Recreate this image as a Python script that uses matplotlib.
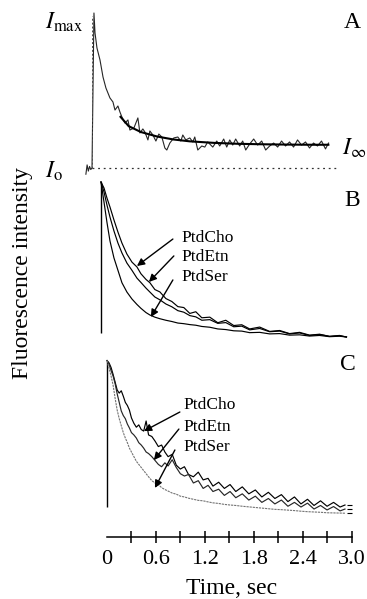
import matplotlib
matplotlib.use('Agg')
import matplotlib.pyplot as plt
import numpy as np

plt.rcParams['font.family'] = ['Liberation Serif', 'DejaVu Serif']
plt.rcParams['mathtext.fontset'] = 'stix'

# ---- data (time in sec, intensity in relative units) ----
# panel A: raw trace and fitted curve
a_time = [-0.075, -0.06, -0.045, -0.03, -0.015, 0.0, 0.024, 0.037, 0.061, 0.098,
          0.135, 0.171, 0.220, 0.257, 0.282, 0.318, 0.343, 0.367, 0.404, 0.441,
          0.465, 0.514, 0.563, 0.588, 0.624, 0.649, 0.686, 0.710, 0.747, 0.784,
          0.820, 0.857, 0.894, 0.918, 0.955, 1.004, 1.053, 1.090, 1.114, 1.151,
          1.200, 1.237, 1.261, 1.298, 1.347, 1.384, 1.420, 1.482, 1.531, 1.567,
          1.616, 1.653, 1.690, 1.727, 1.763, 1.812, 1.849, 1.886, 1.935, 1.984,
          2.033, 2.082, 2.131, 2.180, 2.229, 2.278, 2.326, 2.375, 2.424, 2.473,
          2.522, 2.571, 2.620, 2.669, 2.718, 2.767, 2.816, 2.865, 2.902]
a_raw = [-0.04, 0.02, -0.02, 0.01, -0.01, 0.0, 1.0, 0.871, 0.774, 0.697,
         0.587, 0.516, 0.452, 0.426, 0.374, 0.400, 0.361, 0.329, 0.290, 0.310,
         0.245, 0.258, 0.323, 0.226, 0.252, 0.232, 0.181, 0.239, 0.213, 0.174,
         0.219, 0.200, 0.129, 0.116, 0.161, 0.194, 0.200, 0.174, 0.213, 0.181,
         0.194, 0.168, 0.200, 0.116, 0.142, 0.135, 0.168, 0.135, 0.174, 0.142,
         0.187, 0.135, 0.181, 0.148, 0.187, 0.142, 0.174, 0.116, 0.155, 0.187,
         0.148, 0.174, 0.116, 0.142, 0.161, 0.135, 0.174, 0.142, 0.168, 0.135,
         0.181, 0.148, 0.168, 0.129, 0.161, 0.142, 0.174, 0.123, 0.161]
a_fit_time = [0.35, 0.45, 0.6, 0.8, 1.0, 1.2, 1.5, 1.8, 2.1, 2.4, 2.7, 2.9]
a_fit = [0.33, 0.27, 0.232, 0.203, 0.184, 0.172, 0.162, 0.156, 0.153, 0.151, 0.150, 0.150]

# panel B
b_time = [0, 0.037, 0.073, 0.110, 0.159, 0.208, 0.257, 0.318, 0.380, 0.441,
          0.490, 0.551, 0.600, 0.661, 0.722, 0.796, 0.869, 0.943, 1.016, 1.090,
          1.163, 1.237, 1.335, 1.433, 1.531, 1.629, 1.727, 1.824, 1.947, 2.069,
          2.192, 2.314, 2.437, 2.559, 2.682, 2.804, 2.926, 3.012]
b_cho = [1.0, 0.961, 0.897, 0.839, 0.755, 0.677, 0.606, 0.535, 0.483, 0.452,
         0.408, 0.372, 0.350, 0.306, 0.291, 0.248, 0.229, 0.196, 0.190, 0.152,
         0.163, 0.124, 0.128, 0.092, 0.108, 0.074, 0.079, 0.052, 0.064, 0.036,
         0.042, 0.022, 0.030, 0.012, 0.018, 0.004, 0.010, 0.0]
b_etn = [1.0, 0.935, 0.852, 0.774, 0.684, 0.606, 0.542, 0.477, 0.430, 0.380,
         0.352, 0.316, 0.290, 0.258, 0.240, 0.213, 0.195, 0.170, 0.160, 0.138,
         0.130, 0.108, 0.112, 0.088, 0.093, 0.066, 0.070, 0.046, 0.055, 0.034,
         0.038, 0.020, 0.026, 0.010, 0.016, 0.004, 0.008, 0.0]
b_ser = [1.0, 0.87, 0.74, 0.62, 0.51, 0.43, 0.35, 0.29, 0.245, 0.21,
         0.185, 0.158, 0.142, 0.128, 0.118, 0.108, 0.100, 0.090, 0.086, 0.080,
         0.076, 0.068, 0.063, 0.052, 0.048, 0.040, 0.038, 0.028, 0.030, 0.020,
         0.022, 0.012, 0.014, 0.006, 0.010, 0.002, 0.005, 0.0]
b_start = 0.026

# panel C
c_time = [0, 0.025, 0.05, 0.075, 0.10, 0.125, 0.15, 0.175, 0.20, 0.225,
          0.25, 0.275, 0.30, 0.33, 0.36, 0.39, 0.42, 0.45, 0.48, 0.51,
          0.55, 0.59, 0.63, 0.67, 0.71, 0.75, 0.80, 0.85, 0.90, 0.95,
          1.00, 1.06, 1.12, 1.18, 1.24, 1.30, 1.37, 1.44, 1.51, 1.58,
          1.66, 1.74, 1.82, 1.90, 1.98, 2.06, 2.14, 2.22, 2.30, 2.38,
          2.46, 2.54, 2.62, 2.70, 2.78, 2.86, 2.92]
c_cho = [0.99, 0.975, 0.945, 0.90, 0.85, 0.80, 0.78, 0.795, 0.76, 0.72,
         0.70, 0.67, 0.62, 0.585, 0.56, 0.575, 0.545, 0.535, 0.60, 0.51,
         0.50, 0.47, 0.435, 0.445, 0.40, 0.37, 0.385, 0.315, 0.29, 0.305,
         0.255, 0.24, 0.27, 0.22, 0.23, 0.18, 0.205, 0.165, 0.19, 0.145,
         0.175, 0.13, 0.155, 0.11, 0.14, 0.10, 0.125, 0.08, 0.11, 0.065,
         0.095, 0.055, 0.085, 0.05, 0.075, 0.045, 0.058]
c_etn = [0.99, 0.965, 0.925, 0.89, 0.84, 0.775, 0.72, 0.665, 0.635, 0.615,
         0.58, 0.555, 0.525, 0.51, 0.49, 0.46, 0.445, 0.425, 0.40, 0.39,
         0.37, 0.345, 0.32, 0.305, 0.33, 0.31, 0.35, 0.30, 0.26, 0.245,
         0.255, 0.20, 0.215, 0.165, 0.185, 0.145, 0.16, 0.12, 0.145, 0.105,
         0.13, 0.09, 0.115, 0.075, 0.10, 0.065, 0.09, 0.05, 0.075, 0.045,
         0.07, 0.032, 0.055, 0.026, 0.048, 0.02, 0.032]
c_ser = [0.99, 0.94, 0.89, 0.83, 0.745, 0.67, 0.615, 0.57, 0.525, 0.49,
         0.46, 0.425, 0.40, 0.37, 0.34, 0.32, 0.30, 0.28, 0.26, 0.24,
         0.215, 0.20, 0.19, 0.17, 0.158, 0.148, 0.135, 0.128, 0.115, 0.11,
         0.102, 0.095, 0.088, 0.085, 0.078, 0.072, 0.068, 0.062, 0.058, 0.055,
         0.05, 0.046, 0.042, 0.038, 0.034, 0.03, 0.028, 0.025, 0.022, 0.018,
         0.015, 0.013, 0.011, 0.008, 0.007, 0.006, 0.005]
c_start = 0.045
c_end_levels = [0.058, 0.032, 0.006]

lipids = ['PtdCho', 'PtdEtn', 'PtdSer']
tick_vals = [0, 0.6, 1.2, 1.8, 2.4, 3.0]
tick_labels = ['0', '0.6', '1.2', '1.8', '2.4', '3.0']
tick_marks = [0.3, 0.6, 0.9, 1.2, 1.5, 1.8, 2.1, 2.4, 2.7, 3.0]

# ---- layout (pixels) ----
W, H = 367, 599
PX_S = 81.5       # pixels per second
PX_U = 155.0      # pixels per intensity unit
LEFT, RIGHT = 60, 367

fig = plt.figure(figsize=(W / 100, H / 100), dpi=100)


def px(x, y):
    return x / W, 1 - y / H


def panel(top, bottom, t0_px, y0_px):
    ax = fig.add_axes([LEFT / W, 1 - bottom / H, (RIGHT - LEFT) / W, (bottom - top) / H])
    ax.set_xlim((LEFT - t0_px) / PX_S, (RIGHT - t0_px) / PX_S)
    ax.set_ylim((y0_px - bottom) / PX_U, (y0_px - top) / PX_U)
    ax.patch.set_visible(False)
    for s in ax.spines.values():
        s.set_visible(False)
    ax.set_xticks([])
    ax.set_yticks([])
    return ax


arrow = dict(arrowstyle='-|>', color='k', lw=1.0, mutation_scale=11, shrinkA=0, shrinkB=0)

# panel A
axA = panel(0, 180, 92, 168)
axA.plot(a_time, a_raw, color='0.15', lw=0.8)
axA.plot(a_fit_time, a_fit, color='k', lw=1.5)
axA.vlines(0, 0, 0.98, colors='0.3', lw=0.7, linestyles=(0, (2, 2)))
axA.hlines(0, 0, 3.0, colors='0.2', lw=0.9, linestyles=(0, (1.5, 3)))

# panel B
axB = panel(175, 345, 101, 337)
axB.vlines(0, b_start, 1.0, colors='k', lw=1.0)
for vals in (b_cho, b_etn, b_ser):
    axB.plot(b_time, vals, color='k', lw=0.85)
b_arrows = [((0.882, 0.632), (0.441, 0.458)),
            ((0.894, 0.523), (0.588, 0.355)),
            ((0.882, 0.368), (0.612, 0.129))]
b_label_y = [0.639, 0.516, 0.387]
for name, (tail, head), ly in zip(lipids, b_arrows, b_label_y):
    axB.annotate('', xy=head, xytext=tail, arrowprops=arrow)
    axB.text(0.992, ly, name, fontsize=12.5, ha='left', va='center')

# panel C with time axis
axC = panel(350, 575, 107, 514)
axC.vlines(0, c_start, 0.99, colors='k', lw=1.0)
axC.plot(c_time, c_cho, color='k', lw=0.85)
axC.plot(c_time, c_etn, color='0.15', lw=0.85)
axC.plot(c_time, c_ser, color='0.45', lw=0.8, linestyle=(0, (2, 0.8)))
axC.hlines(c_end_levels, 2.94, 3.0, colors='k', lw=0.8)
c_arrows = [((0.894, 0.658), (0.453, 0.535)),
            ((0.882, 0.548), (0.575, 0.348)),
            ((0.833, 0.413), (0.588, 0.168))]
c_label_y = [0.703, 0.561, 0.432]
for name, (tail, head), ly in zip(lipids, c_arrows, c_label_y):
    axC.annotate('', xy=head, xytext=tail, arrowprops=arrow)
    axC.text(0.943, ly, name, fontsize=12.5, ha='left', va='center')

axC.spines['bottom'].set_visible(True)
axC.spines['bottom'].set_position(('data', (514 - 537) / PX_U))
axC.spines['bottom'].set_bounds(0, 3.0)
axC.spines['bottom'].set_linewidth(1.1)
axC.xaxis.remove_overlapping_locs = False
axC.set_xticks(tick_vals)
axC.set_xticklabels(tick_labels)
axC.set_xticks(tick_marks, minor=True)
axC.tick_params(axis='x', which='major', length=0, labelsize=16, pad=9)
axC.tick_params(axis='x', which='minor', direction='inout', length=9, width=1.1)

# texts
fig.text(*px(45, 22), r'$I_{\rm max}$', fontsize=17, ha='left', va='center')
fig.text(*px(342, 148), r'$I_{\infty}$', fontsize=17, ha='left', va='center')
fig.text(*px(45, 171), r'$I_{\rm o}$', fontsize=17, ha='left', va='center')
fig.text(*px(352, 23), 'A', fontsize=17, ha='center', va='center')
fig.text(*px(352, 200), 'B', fontsize=17, ha='center', va='center')
fig.text(*px(348, 365), 'C', fontsize=17, ha='center', va='center')
fig.text(*px(232, 588), 'Time, sec', fontsize=17, ha='center', va='center')
fig.text(*px(23, 273), 'Fluorescence intensity', fontsize=17, rotation=90,
         ha='center', va='center')

fig.savefig('out.png', dpi=100)
